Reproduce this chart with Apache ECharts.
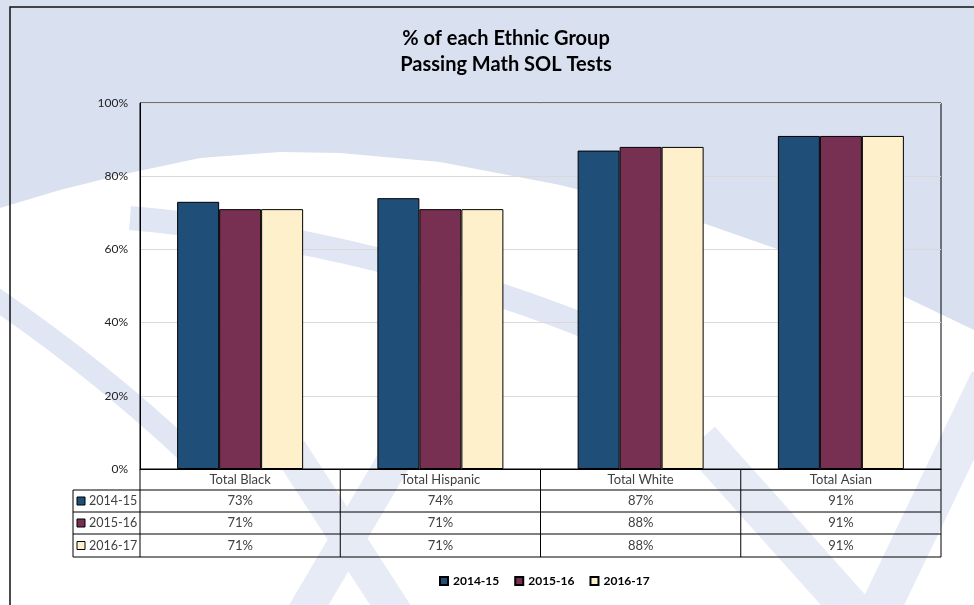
<!DOCTYPE html>
<html><head><meta charset="utf-8">
<script src="https://cdn.jsdelivr.net/npm/echarts@6/dist/echarts.min.js"></script>
<style>html,body{margin:0;padding:0;background:#fff}#c{width:974px;height:605px}</style>
</head><body><div id="c"></div>
<script>
const categories = ['Total Black', 'Total Hispanic', 'Total White', 'Total Asian'];
const seriesNames = ['2014-15', '2015-16', '2016-17'];
const values2014 = [73, 74, 87, 91];
const values2015 = [71, 71, 88, 91];
const values2016 = [71, 71, 88, 91];
const yTicks = [0, 20, 40, 60, 80, 100];
const titleLines = ['% of each Ethnic Group', 'Passing Math SOL Tests'];

const seriesValues = [values2014, values2015, values2016];
const colors = ['#1f4e79', '#772f52', '#fff0cc'];
const FONT = 'Lato, "Open Sans", sans-serif';
const GRID = { left: 140, top: 103, width: 801, height: 366 };
const ROW_Y = [490, 512, 534, 557];
const TABLE_LEFT = 73;

const chart = echarts.init(document.getElementById('c'));

const BAND = '#e0e6f3';
const bgGraphics = [
  { type: 'rect', z: -20, silent: true, shape: { x: 0, y: 0, width: 974, height: 605 }, style: { fill: '#ffffff' } },
  { type: 'polygon', z: -19, silent: true, shape: { points: [[0,0],[974,0],[974,330],[880,285],[780,250],[680,215],[560,185],[440,162],[340,153],[280,152],[200,158],[120,175],[60,190],[0,208]] }, style: { fill: '#d9e0f0' } },
  { type: 'bezierCurve', z: -18, silent: true, shape: { x1: -10, y1: 295, cpx1: 100, cpy1: 370, x2: 190, y2: 455 }, style: { fill: null, stroke: BAND, lineWidth: 22 } },
  { type: 'bezierCurve', z: -18, silent: true, shape: { x1: 130, y1: 218, cpx1: 380, cpy1: 240, x2: 620, y2: 340 }, style: { fill: null, stroke: BAND, lineWidth: 24 } },
  { type: 'line', z: -18, silent: true, shape: { x1: 290, y1: 450, x2: 400, y2: 620 }, style: { stroke: '#e6ebf6', lineWidth: 34 } },
  { type: 'line', z: -18, silent: true, shape: { x1: 400, y1: 450, x2: 300, y2: 620 }, style: { stroke: '#e6ebf6', lineWidth: 34 } },
  { type: 'polyline', z: -18, silent: true, shape: { points: [[700,440],[870,630],[990,380]] }, style: { fill: null, stroke: '#e6ebf6', lineWidth: 40 } },
  { type: 'rect', z: -5, silent: true, shape: { x: 10, y: 7, width: 1000, height: 700 }, style: { fill: null, stroke: '#111', lineWidth: 1.5 } }
];

const option = {
  backgroundColor: 'transparent',
  animation: false,
  textStyle: { fontFamily: FONT },
  title: {
    text: titleLines.join('\n'),
    left: 501,
    textAlign: 'center',
    top: 21,
    textStyle: { fontFamily: FONT, fontSize: 20, fontWeight: 'bold', color: '#000', lineHeight: 26 }
  },
  legend: {
    data: seriesNames,
    left: 434,
    top: 570,
    icon: 'rect',
    itemWidth: 8,
    itemHeight: 8,
    itemGap: 15,
    textStyle: { fontFamily: FONT, fontSize: 12, fontWeight: 'bold', color: '#000' }
  },
  grid: Object.assign({ show: true, borderColor: '#000', borderWidth: 1, backgroundColor: 'transparent' }, GRID),
  xAxis: {
    type: 'category',
    data: categories,
    axisLine: { lineStyle: { color: '#000', width: 1 } },
    axisTick: { show: false },
    axisLabel: { fontFamily: FONT, fontSize: 13, color: '#404040', margin: 4 }
  },
  yAxis: {
    type: 'value',
    min: yTicks[0],
    max: yTicks[yTicks.length - 1],
    interval: yTicks[1] - yTicks[0],
    axisLine: { show: true, lineStyle: { color: '#000', width: 1 } },
    axisTick: { show: false },
    axisLabel: { formatter: '{value}%', fontFamily: FONT, fontSize: 12, color: '#222', margin: 12 },
    splitLine: { lineStyle: { color: '#d9d9d9', width: 1 } }
  },
  series: seriesNames.map((name, i) => ({
    name: name,
    type: 'bar',
    data: seriesValues[i],
    barWidth: 42,
    barGap: '0%',
    itemStyle: { color: colors[i], borderColor: '#000', borderWidth: 1 }
  })),
  graphic: { elements: bgGraphics }
};
chart.setOption(option);

// data table drawn beneath the axis, positioned from the category scale
const centers = categories.map(c => chart.convertToPixel({ xAxisIndex: 0 }, c));
const band = centers[1] - centers[0];
const tableRight = centers[centers.length - 1] + band / 2;
const table = [];
const lineStyle = { stroke: '#000', lineWidth: 1 };
const axisY = GRID.top + GRID.height;
for (let i = 0; i <= categories.length; i++) {
  const x = i < categories.length ? centers[i] - band / 2 : tableRight;
  table.push({ type: 'line', z: 10, silent: true, shape: { x1: x, y1: axisY, x2: x, y2: ROW_Y[ROW_Y.length - 1] }, style: lineStyle });
}
ROW_Y.forEach(y => {
  table.push({ type: 'line', z: 10, silent: true, shape: { x1: TABLE_LEFT, y1: y, x2: tableRight, y2: y }, style: lineStyle });
});
table.push({ type: 'line', z: 10, silent: true, shape: { x1: TABLE_LEFT, y1: ROW_Y[0], x2: TABLE_LEFT, y2: ROW_Y[ROW_Y.length - 1] }, style: lineStyle });
seriesNames.forEach((name, r) => {
  const cy = (ROW_Y[r] + ROW_Y[r + 1]) / 2;
  table.push({ type: 'rect', z: 10, silent: true, shape: { x: 77, y: cy - 4, width: 8, height: 8 }, style: { fill: colors[r], stroke: '#000', lineWidth: 1 } });
  table.push({ type: 'text', z: 10, silent: true, style: { text: name, x: 89, y: cy, verticalAlign: 'middle', align: 'left', fontFamily: FONT, fontSize: 12.5, fill: '#404040' } });
  seriesValues[r].forEach((v, c) => {
    table.push({ type: 'text', z: 10, silent: true, style: { text: v + '%', x: centers[c], y: cy, verticalAlign: 'middle', align: 'center', fontFamily: FONT, fontSize: 13, fill: '#404040' } });
  });
});
chart.setOption({ graphic: { elements: bgGraphics.concat(table) } });
</script>
</body></html>
